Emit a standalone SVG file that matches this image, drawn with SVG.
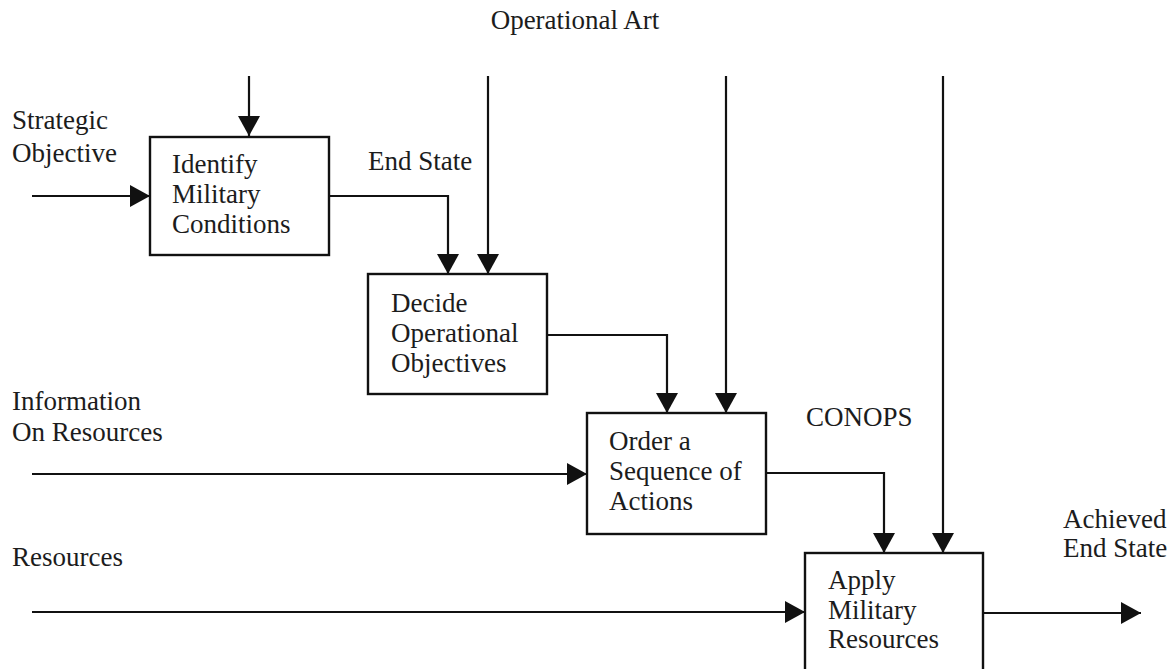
<svg xmlns="http://www.w3.org/2000/svg" width="1174" height="669" viewBox="0 0 1174 669" font-family="Liberation Serif, Times New Roman, serif" font-size="27">
  <style>
    .box { fill: #ffffff; stroke: #111; stroke-width: 2.4; }
    .lbl { fill: #1c1c1c; }
    .edge { fill: none; stroke: #111; stroke-width: 2.2; }
  </style>
  <defs>
    <marker id="arrow" viewBox="0 0 20 22" refX="20" refY="11" markerWidth="20" markerHeight="22" markerUnits="userSpaceOnUse" orient="auto">
      <path d="M0,0 L20,11 L0,22 Z" fill="#111"/>
    </marker>
  </defs>
  <rect width="1174" height="669" fill="#ffffff"/>

  <!-- free-standing labels -->
  <g id="labels" font-family="Liberation Serif, Times New Roman, serif">
    <text class="lbl" x="575" y="29" text-anchor="middle">Operational Art</text>
    <text class="lbl" x="12" y="129">Strategic</text>
    <text class="lbl" x="12" y="162">Objective</text>
    <text class="lbl" x="368" y="170">End State</text>
    <text class="lbl" x="12" y="410">Information</text>
    <text class="lbl" x="12" y="441">On Resources</text>
    <text class="lbl" x="806" y="426">CONOPS</text>
    <text class="lbl" x="12" y="566">Resources</text>
    <text class="lbl" x="1063" y="528">Achieved</text>
    <text class="lbl" x="1063" y="557">End State</text>
  </g>

  <!-- connectors -->
  <g id="connectors">
    <path class="edge" d="M249,76 V136" marker-end="url(#arrow)"/>
    <path class="edge" d="M488,76 V274" marker-end="url(#arrow)"/>
    <path class="edge" d="M726,76 V413" marker-end="url(#arrow)"/>
    <path class="edge" d="M943,76 V553" marker-end="url(#arrow)"/>
    <path class="edge" d="M32,196 H150" marker-end="url(#arrow)"/>
    <path class="edge" d="M329,196 H448 V274" marker-end="url(#arrow)"/>
    <path class="edge" d="M547,335 H667 V413" marker-end="url(#arrow)"/>
    <path class="edge" d="M32,474 H587" marker-end="url(#arrow)"/>
    <path class="edge" d="M766,473 H884 V553" marker-end="url(#arrow)"/>
    <path class="edge" d="M32,612 H805" marker-end="url(#arrow)"/>
    <path class="edge" d="M983,613 H1141" marker-end="url(#arrow)"/>
  </g>

  <g id="identify" font-family="Liberation Serif, Times New Roman, serif">
    <rect class="box" x="150" y="137" width="179" height="118"/>
    <text class="lbl" x="172" y="173">Identify</text>
    <text class="lbl" x="172" y="203">Military</text>
    <text class="lbl" x="172" y="233">Conditions</text>
  </g>

  <g id="decide" font-family="Liberation Serif, Times New Roman, serif">
    <rect class="box" x="368" y="274" width="179" height="120"/>
    <text class="lbl" x="391" y="312">Decide</text>
    <text class="lbl" x="391" y="342">Operational</text>
    <text class="lbl" x="391" y="372">Objectives</text>
  </g>

  <g id="order" font-family="Liberation Serif, Times New Roman, serif">
    <rect class="box" x="587" y="413" width="179" height="121"/>
    <text class="lbl" x="609" y="450">Order a</text>
    <text class="lbl" x="609" y="480">Sequence of</text>
    <text class="lbl" x="609" y="510">Actions</text>
  </g>

  <g id="apply" font-family="Liberation Serif, Times New Roman, serif">
    <rect class="box" x="805" y="553" width="178" height="130"/>
    <text class="lbl" x="828" y="589">Apply</text>
    <text class="lbl" x="828" y="619">Military</text>
    <text class="lbl" x="828" y="648">Resources</text>
  </g>
</svg>
